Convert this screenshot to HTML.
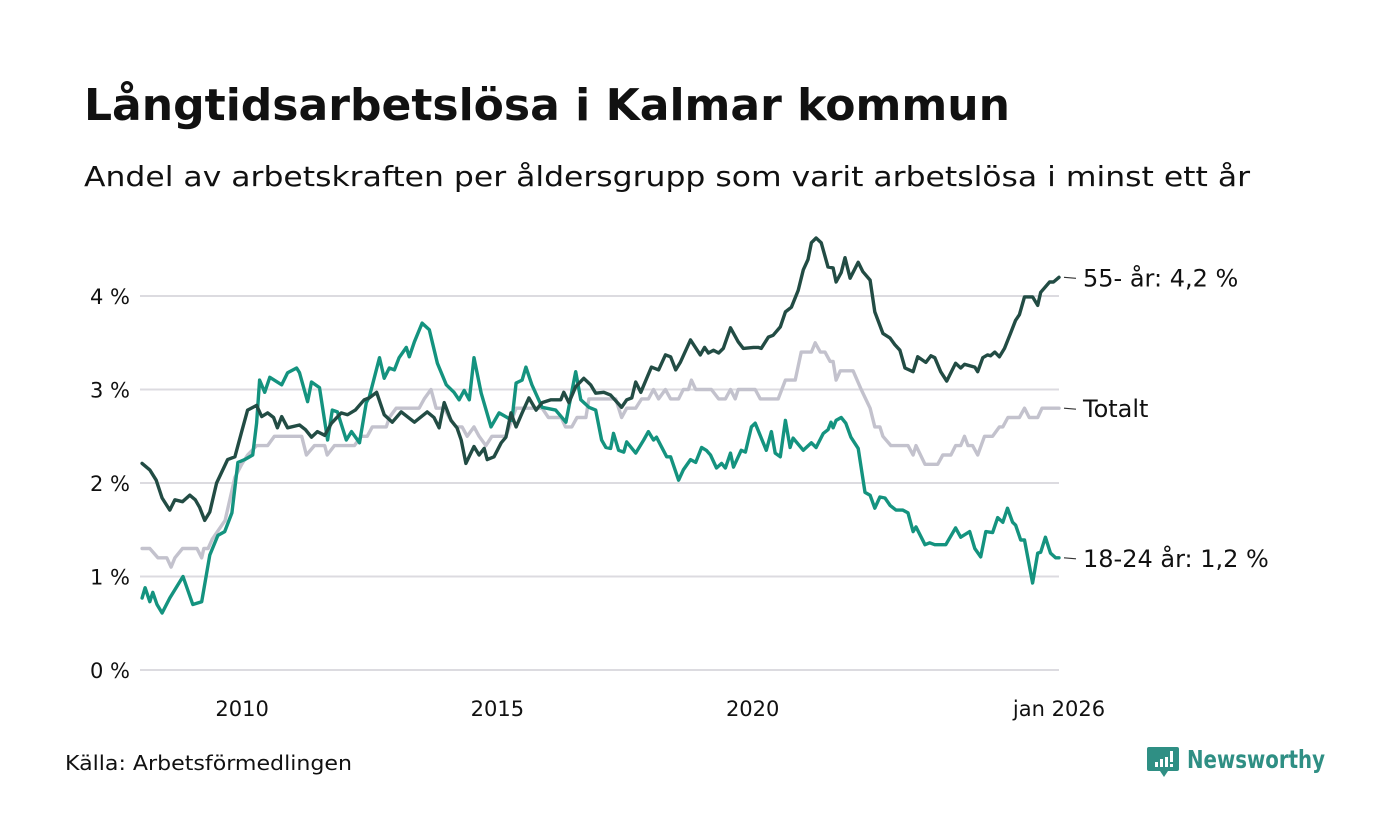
<!DOCTYPE html>
<html><head><meta charset="utf-8"><style>
html,body{margin:0;padding:0;background:#fff;}
svg{display:block;font-family:"DejaVu Sans","Liberation Sans",sans-serif;}
</style></head><body>
<svg id="chart" width="1400" height="840" viewBox="0 0 1400 840">
<text x="84" y="120" font-size="44" font-weight="bold" fill="#111" textLength="926" lengthAdjust="spacingAndGlyphs">Långtidsarbetslösa i Kalmar kommun</text>
<text x="84" y="186" font-size="28" fill="#111" textLength="1166" lengthAdjust="spacingAndGlyphs">Andel av arbetskraften per åldersgrupp som varit arbetslösa i minst ett år</text>
<g id="grid"></g>
<g id="yaxis"></g>
<g id="xaxis"></g>
<g id="series"></g>
<g id="labels"></g>
<text x="65" y="770" font-size="20" fill="#111" textLength="287" lengthAdjust="spacingAndGlyphs">Källa: Arbetsförmedlingen</text>
<g>
<path d="M1149,747 h28 a2,2 0 0 1 2,2 v20 a2,2 0 0 1 -2,2 h-9 l-4,6 l-4,-6 h-11 a2,2 0 0 1 -2,-2 v-20 a2,2 0 0 1 2,-2z" fill="#2f8f84"/>
<rect x="1155" y="762" width="3" height="5" fill="#fff"/><rect x="1160" y="759" width="3" height="8" fill="#fff"/><rect x="1165" y="757" width="3" height="10" fill="#fff"/><rect x="1170" y="751" width="3" height="11" fill="#fff"/><rect x="1170" y="764" width="3" height="3" fill="#fff"/>
<text x="1187" y="768" font-size="25" font-weight="bold" fill="#2f8f84" textLength="138" lengthAdjust="spacingAndGlyphs">Newsworthy</text>
</g>
</svg>
<script>
const yTicks=[0,1,2,3,4];
const yTickLabels=["0 %","1 %","2 %","3 %","4 %"];
const xTicks=[24,84,144,216];
const xTickLabels=["2010","2015","2020","jan 2026"];
const oldM=[0.5,2.3,3.8,5.2,7,8.2,10,11.7,13,14,15.2,16.4,18,20.6,22.3,23.9,25.3,27.4,28.6,30,31.4,32.3,33.3,34.7,37.5,38.9,40.3,41.7,43.4,45,47.3,48.8,50.6,52.7,53.9,55.6,57.4,59.3,61.4,64.5,67.5,69.1,70.3,71.5,73.1,74.5,75.5,76.6,78.5,79.7,80.9,81.6,83.2,84.9,86,87.2,88.4,89.8,91.4,93.1,94.5,96.6,98.9,99.6,100.8,102.4,104.3,105.9,107.1,109,110.6,111.6,113.2,114.4,115.6,116.5,117.7,120.2,121.9,123.5,124.7,125.9,127,129.4,131.7,132.7,133.6,134.8,136,137.1,138.8,140.6,141.8,144.2,145.3,146,147.7,148.8,150.5,151.7,153.1,154.7,155.9,157,157.8,158.9,160.1,161.7,162.9,163.6,164.8,165.7,166.9,168.8,169.9,171.6,172.7,174.6,176.3,177.4,178.6,179.8,181.7,182.8,184.7,185.9,186.8,188.2,189.6,191.7,192.9,193.8,196.2,196.9,198.1,199.2,199.9,200.9,202,203.2,204.6,205.8,206.7,207.9,209.8,211,211.7,213.8,214.7,216];
const oldV=[2.21,2.14,2.03,1.84,1.71,1.82,1.80,1.87,1.82,1.74,1.60,1.69,2.00,2.25,2.28,2.55,2.78,2.83,2.71,2.75,2.70,2.59,2.71,2.59,2.62,2.57,2.49,2.55,2.51,2.64,2.75,2.73,2.78,2.89,2.91,2.97,2.73,2.65,2.76,2.65,2.76,2.70,2.59,2.86,2.67,2.59,2.46,2.21,2.39,2.30,2.37,2.25,2.28,2.43,2.49,2.75,2.60,2.75,2.91,2.78,2.86,2.89,2.89,2.97,2.86,3.03,3.12,3.05,2.96,2.97,2.94,2.89,2.81,2.89,2.91,3.08,2.97,3.24,3.21,3.37,3.35,3.21,3.29,3.53,3.37,3.45,3.39,3.42,3.39,3.44,3.66,3.51,3.44,3.45,3.45,3.44,3.56,3.58,3.67,3.83,3.88,4.06,4.28,4.39,4.57,4.62,4.57,4.31,4.30,4.15,4.25,4.41,4.19,4.36,4.26,4.17,3.83,3.60,3.55,3.48,3.42,3.23,3.19,3.35,3.29,3.36,3.34,3.19,3.09,3.28,3.23,3.27,3.24,3.19,3.34,3.37,3.36,3.40,3.35,3.44,3.60,3.74,3.80,3.99,3.99,3.90,4.04,4.15,4.15,4.20];
const youngM=[0.5,1.2,2.3,3,4,5.2,7,10.1,12.4,14.5,16.4,18.3,19.9,21.6,23,24.6,26.5,27.4,28.1,29.3,30.5,33.3,34.7,36.8,37.5,39.4,40.3,42.2,44.1,45.2,46.4,48.5,49.7,51.6,53.2,53.9,56.3,57.4,58.6,59.8,60.9,62.6,63.3,64.5,66.3,68,69.9,72,73.8,75,76.2,77.4,78.5,80.2,82.5,84.4,86.3,87.4,88.4,89.8,90.7,92.1,94.5,97.7,100.1,102.4,103.6,105.5,107.1,108.5,109.5,110.6,111.3,112.5,113.7,114.4,116.5,118.4,119.5,120.7,121.4,123.8,124.7,126.6,127.7,129.4,130.6,132,133.1,134.1,135.5,136.7,137.6,138.8,139.5,141.3,142.3,143.7,144.6,147.2,148.4,149.3,150.5,151.7,152.8,153.5,155.9,157.8,158.9,160.6,161.7,162.4,162.9,163.6,164.8,165.9,167.1,168.8,170.4,171.6,172.7,173.9,175.1,176.3,177.7,179.3,180.5,181.7,182.4,184.5,185.6,186.8,189.4,191.7,192.9,195,196.2,197.6,198.8,200.4,201.6,202.8,203.9,205.1,205.8,207,207.9,209.8,211,211.7,212.8,214,215.2,216];
const youngV=[0.77,0.88,0.73,0.83,0.70,0.61,0.77,1.00,0.70,0.73,1.23,1.44,1.48,1.68,2.22,2.25,2.30,2.64,3.10,2.97,3.13,3.05,3.18,3.23,3.18,2.87,3.08,3.02,2.46,2.78,2.76,2.46,2.55,2.43,2.86,2.92,3.34,3.12,3.23,3.21,3.34,3.45,3.35,3.51,3.71,3.64,3.28,3.05,2.97,2.89,2.99,2.89,3.34,2.96,2.60,2.75,2.70,2.67,3.07,3.10,3.24,3.05,2.81,2.78,2.65,3.19,2.89,2.81,2.78,2.46,2.38,2.37,2.53,2.35,2.33,2.44,2.32,2.46,2.55,2.46,2.49,2.28,2.28,2.03,2.14,2.25,2.22,2.38,2.35,2.30,2.16,2.21,2.16,2.32,2.17,2.35,2.33,2.60,2.64,2.35,2.55,2.32,2.28,2.67,2.38,2.48,2.35,2.43,2.38,2.53,2.57,2.65,2.59,2.67,2.70,2.64,2.49,2.37,1.90,1.87,1.73,1.85,1.84,1.76,1.71,1.71,1.68,1.48,1.53,1.34,1.36,1.34,1.34,1.52,1.42,1.48,1.30,1.21,1.48,1.47,1.63,1.58,1.73,1.58,1.55,1.39,1.39,0.93,1.25,1.26,1.42,1.25,1.20,1.20];
const totM=[0.5,2.3,4.2,6.3,7.3,8.2,10,13.4,14.5,15,16,17,20,22.3,23.9,25.3,27.4,30,31.6,38,39.1,41,43.4,44,45.7,50.4,52,53.4,54.6,57.9,58.6,60.2,65.6,66.8,68.4,69.6,71.5,72.7,74.3,75.7,76.9,78.5,79.7,81.3,82.7,86,88.4,94.5,96,99,100,101.5,102.7,104.8,105.5,111.8,113.2,114.4,116.5,117.9,119.5,120.7,121.9,123.5,124.7,126.6,127.7,128.9,129.6,130.6,134.3,136,137.6,138.8,139.9,140.6,144.6,145.8,150,151.7,154,155.4,157.8,158.7,159.9,161,162.2,162.9,163.6,164.6,167.6,169.5,171.6,172.7,173.9,174.6,176.5,180.5,181.7,182.4,184.5,187.5,188.7,190.6,191.7,192.9,193.8,194.6,195.7,196.9,198.5,200.4,202,202.8,204,206.7,207.9,209,211,212,216];
const totV=[1.3,1.3,1.2,1.2,1.1,1.2,1.3,1.3,1.2,1.3,1.3,1.4,1.6,2.06,2.2,2.3,2.4,2.4,2.5,2.5,2.3,2.4,2.4,2.3,2.4,2.4,2.5,2.5,2.6,2.6,2.7,2.8,2.8,2.9,3.0,2.8,2.8,2.7,2.6,2.6,2.5,2.6,2.5,2.4,2.5,2.5,2.8,2.8,2.7,2.7,2.6,2.6,2.7,2.7,2.9,2.9,2.7,2.8,2.8,2.9,2.9,3.0,2.9,3.0,2.9,2.9,3.0,3.0,3.1,3.0,3.0,2.9,2.9,3.0,2.9,3.0,3.0,2.9,2.9,3.1,3.1,3.4,3.4,3.5,3.4,3.4,3.3,3.3,3.1,3.2,3.2,3.0,2.8,2.6,2.6,2.5,2.4,2.4,2.3,2.4,2.2,2.2,2.3,2.3,2.4,2.4,2.5,2.4,2.4,2.3,2.5,2.5,2.6,2.6,2.7,2.7,2.8,2.7,2.7,2.8,2.8];
const NS="http://www.w3.org/2000/svg";
const X0=140,X1=1059,M1=216;
function xs(m){return X0+(X1-X0)*m/M1;}
function ys(v){return 670-93.5*v;}
function mk(tag,attrs,parent){const e=document.createElementNS(NS,tag);for(const k in attrs)e.setAttribute(k,attrs[k]);parent.appendChild(e);return e;}
const grid=document.getElementById('grid'),ya=document.getElementById('yaxis'),xa=document.getElementById('xaxis'),ser=document.getElementById('series'),lab=document.getElementById('labels');
yTicks.forEach((t,i)=>{
 const l=mk('line',{x1:X0,x2:X1,y1:ys(t),y2:ys(t),stroke:'#dcdbe0','stroke-width':2},grid);
 
 
 const tx=mk('text',{x:130,y:ys(t)+8,'text-anchor':'end','font-size':21,fill:'#111'},ya);
 tx.textContent=yTickLabels[i];
 
 
});
xTicks.forEach((t,i)=>{
 const tx=mk('text',{x:xs(t),y:716,'text-anchor':'middle','font-size':21,fill:'#111'},xa);
 tx.textContent=xTickLabels[i];
 
 
});
function draw(M,V,color,name){
 const d=M.map((m,i)=>(i?'L':'M')+xs(m).toFixed(1)+','+ys(V[i]).toFixed(1)).join('');
 const p=mk('path',{d:d,fill:'none',stroke:color,'stroke-width':3.4,'stroke-linejoin':'round','stroke-linecap':'round'},ser);
 
 
}
draw(totM,totV,'#c3c2cd','line-totalt');
draw(youngM,youngV,'#14937f','line-18-24');
draw(oldM,oldV,'#224c44','line-55-plus');
function endLabel(V,text,name){
 const y=ys(V[V.length-1]);
 mk('line',{x1:1064,x2:1076,y1:y,y2:y+1,stroke:'#333','stroke-width':1.2},lab);
 const t=mk('text',{x:1083,y:y+9,'font-size':24,fill:'#111'},lab);
 t.textContent=text;
 
 
}
endLabel(oldV,'55- år: 4,2 %','label-55-plus');
endLabel(totV,'Totalt','label-totalt');
endLabel(youngV,'18-24 år: 1,2 %','label-18-24');
</script>
</body></html>
